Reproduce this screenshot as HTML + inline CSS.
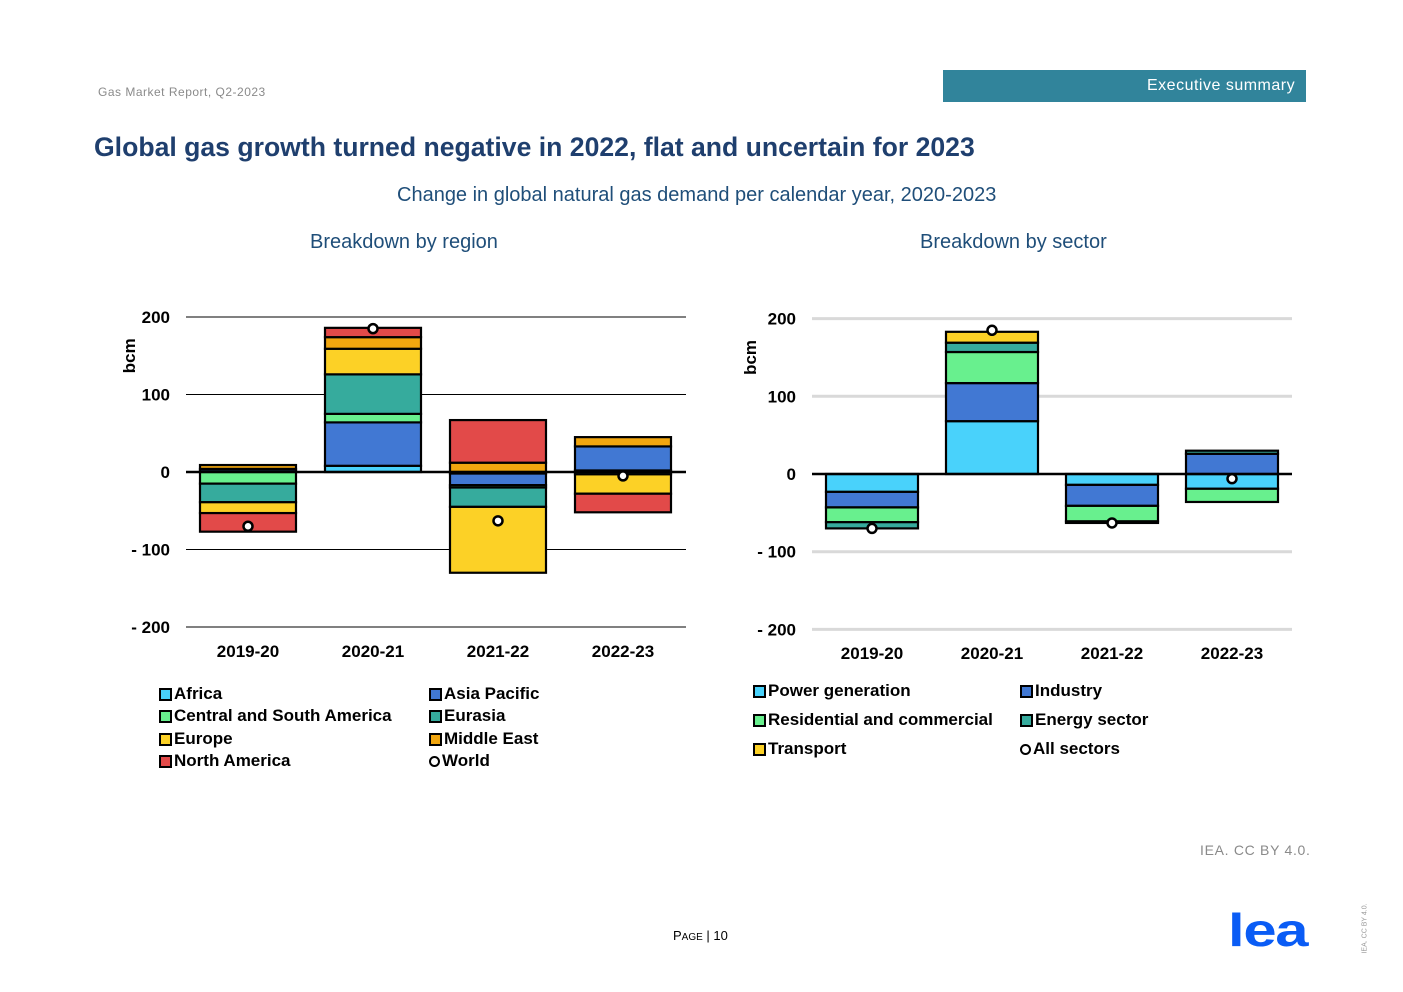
<!DOCTYPE html>
<html><head><meta charset="utf-8"><style>
body{margin:0;background:#fff;font-family:"Liberation Sans",sans-serif;}
#page{position:relative;width:1403px;height:992px;overflow:hidden;background:#fff;}
.a{position:absolute;white-space:nowrap;}
.leg{position:absolute;font-size:17px;font-weight:bold;color:#000;display:flex;align-items:center;white-space:nowrap;}
.sw{display:inline-block;width:9px;height:9px;border:2px solid #000;margin-right:2px;}
.ci{display:inline-block;width:7px;height:7px;border:2.5px solid #000;border-radius:50%;margin-right:2px;background:#fff;}
</style></head><body><div id="page">
<div class="a" style="left:98px;top:85px;font-size:12px;color:#8a8a8a;letter-spacing:.5px">Gas Market Report, Q2-2023</div>
<div class="a" style="left:943px;top:70px;width:363px;height:32px;background:#31849b;"></div>
<div class="a" style="left:1147px;top:77px;font-size:16px;color:#fff;letter-spacing:.5px">Executive summary</div>
<div class="a" style="left:94px;top:132px;font-size:26.6px;font-weight:bold;color:#1f3f6e">Global gas growth turned negative in 2022, flat and uncertain for 2023</div>
<div class="a" style="left:397px;top:184px;font-size:20px;color:#1f4e79">Change in global natural gas demand per calendar year, 2020-2023</div>
<div class="a" style="left:310px;top:231px;font-size:20px;color:#1f4e79">Breakdown by region</div>
<div class="a" style="left:920px;top:231px;font-size:20px;color:#1f4e79">Breakdown by sector</div>
<svg id="chart" class="a" style="left:0;top:0" width="1403" height="800"></svg>

<div class="leg" style="left:159px;top:684px"><span class="sw" style="background:#49d2fb"></span>Africa</div>
<div class="leg" style="left:159px;top:706px"><span class="sw" style="background:#68f08e"></span>Central and South America</div>
<div class="leg" style="left:159px;top:729px"><span class="sw" style="background:#fcd126"></span>Europe</div>
<div class="leg" style="left:159px;top:751px"><span class="sw" style="background:#e24a49"></span>North America</div>
<div class="leg" style="left:429px;top:684px"><span class="sw" style="background:#4178d3"></span>Asia Pacific</div>
<div class="leg" style="left:429px;top:706px"><span class="sw" style="background:#36ab9d"></span>Eurasia</div>
<div class="leg" style="left:429px;top:729px"><span class="sw" style="background:#f1a60f"></span>Middle East</div>
<div class="leg" style="left:429px;top:751px"><span class="ci"></span>World</div>

<div class="leg" style="left:753px;top:681px"><span class="sw" style="background:#49d2fb"></span>Power generation</div>
<div class="leg" style="left:753px;top:710px"><span class="sw" style="background:#68f08e"></span>Residential and commercial</div>
<div class="leg" style="left:753px;top:739px"><span class="sw" style="background:#fcd126"></span>Transport</div>
<div class="leg" style="left:1020px;top:681px"><span class="sw" style="background:#4178d3"></span>Industry</div>
<div class="leg" style="left:1020px;top:710px"><span class="sw" style="background:#36ab9d"></span>Energy sector</div>
<div class="leg" style="left:1020px;top:739px"><span class="ci"></span>All sectors</div>

<div class="a" style="left:1200px;top:842px;font-size:14px;color:#8a8a8a;letter-spacing:.7px">IEA. CC BY 4.0.</div>
<div class="a" style="left:673px;top:928px;font-size:13px;color:#000">P<span style="font-size:10px">AGE</span> | 10</div>
<div class="a" style="left:1228px;top:908px;font-size:46px;font-weight:bold;color:#0a5cf5;letter-spacing:-1px;line-height:44px;transform:scaleX(1.3);transform-origin:left top">lea</div>
<div class="a" style="left:1340px;top:925px;font-size:7px;color:#999;transform:rotate(-90deg);">IEA. CC BY 4.0.</div>
</div>
<script>
const regionCats=["2019-20","2020-21","2021-22","2022-23"];
const regionNames=["Africa","Asia Pacific","Central and South America","Eurasia","Europe","Middle East","North America"];
const regionColors=["#49d2fb","#4178d3","#68f08e","#36ab9d","#fcd126","#f1a60f","#e24a49"];
const africa=[1,8,-2,2];
const asiaPacific=[3,56,-15,31];
const centralSouthAmerica=[-15,11,-3,-3];
const eurasia=[-24,51,-25,0];
const europe=[-14,33,-85,-25];
const middleEast=[5,15,12,12];
const northAmerica=[-24,12,55,-24];
const world=[-70,185,-63,-5];

const sectorCats=["2019-20","2020-21","2021-22","2022-23"];
const sectorColors=["#49d2fb","#4178d3","#68f08e","#36ab9d","#fcd126"];
const power=[-23,68,-14,-19];
const industry=[-20,49,-27,26];
const residential=[-19,40,-20,-17];
const energySector=[-8,12,-2,4];
const transport=[0,14,0,0];
const allSectors=[-70,185,-63,-6];
const ticks=[200,100,0,-100,-200];
const tickLabels=["200","100","0","- 100","- 200"];

const NS="http://www.w3.org/2000/svg";
const svg=document.getElementById('chart');
function mk(t,a){const e=document.createElementNS(NS,t);for(const k in a)e.setAttribute(k,a[k]);svg.appendChild(e);return e;}

function drawChart(o){
  const y=v=>o.y0-v*o.k;
  const x=i=>o.c0+i*o.step;
  ticks.forEach((t,i)=>{
    if(t!==0){const g=mk('line',{x1:o.x1,x2:o.x2,y1:y(t),y2:y(t),stroke:o.grid,'stroke-width':o.gw});
    }
    const tl=mk('text',{x:o.labX,y:y(t)+6,'text-anchor':'end','font-size':17,'font-weight':'bold','font-family':'Liberation Sans, sans-serif'});
    tl.textContent=tickLabels[i];
    
  });
  const yt=mk('text',{transform:`translate(${o.titleX},${y(150)}) rotate(-90)`,'text-anchor':'middle','font-size':17,'font-weight':'bold','font-family':'Liberation Sans, sans-serif'});
  yt.textContent='bcm';
  
  o.cats.forEach((c,i)=>{
    let pos=0,neg=0;
    o.series.forEach((s,j)=>{
      const v=s[i];if(!v)return;
      let a,b;
      if(v>0){a=pos;b=pos+v;pos=b;}else{a=neg;b=neg+v;neg=b;}
      const r=mk('rect',{x:x(i)-o.bw/2,y:Math.min(y(a),y(b)),width:o.bw,height:Math.abs(y(a)-y(b)),fill:o.colors[j],stroke:'#000','stroke-width':2.2});
      
    });
    const cl=mk('text',{x:x(i),y:o.catY,'text-anchor':'middle','font-size':17,'font-weight':'bold','font-family':'Liberation Sans, sans-serif'});
    cl.textContent=c;
    
  });
  const z=mk('line',{x1:o.x1,x2:o.x2,y1:y(0),y2:y(0),stroke:'#000','stroke-width':2.5});
  
  o.cats.forEach((c,i)=>{
    const p=mk('circle',{cx:x(i),cy:y(o.total[i]),r:4.5,fill:'#fff',stroke:'#000','stroke-width':2.5});
    
  });
}
drawChart({y0:472,k:0.775,c0:248,step:125,bw:96,x1:186,x2:686,labX:170,titleX:135,catY:657,grid:'#000',gw:1,
  cats:regionCats,series:[africa,asiaPacific,centralSouthAmerica,eurasia,europe,middleEast,northAmerica],colors:regionColors,total:world});
drawChart({y0:474,k:0.777,c0:872,step:120,bw:92,x1:812,x2:1292,labX:796,titleX:756,catY:659,grid:'#d9d9d9',gw:3,
  cats:sectorCats,series:[power,industry,residential,energySector,transport],colors:sectorColors,total:allSectors});
</script>
</body></html>
